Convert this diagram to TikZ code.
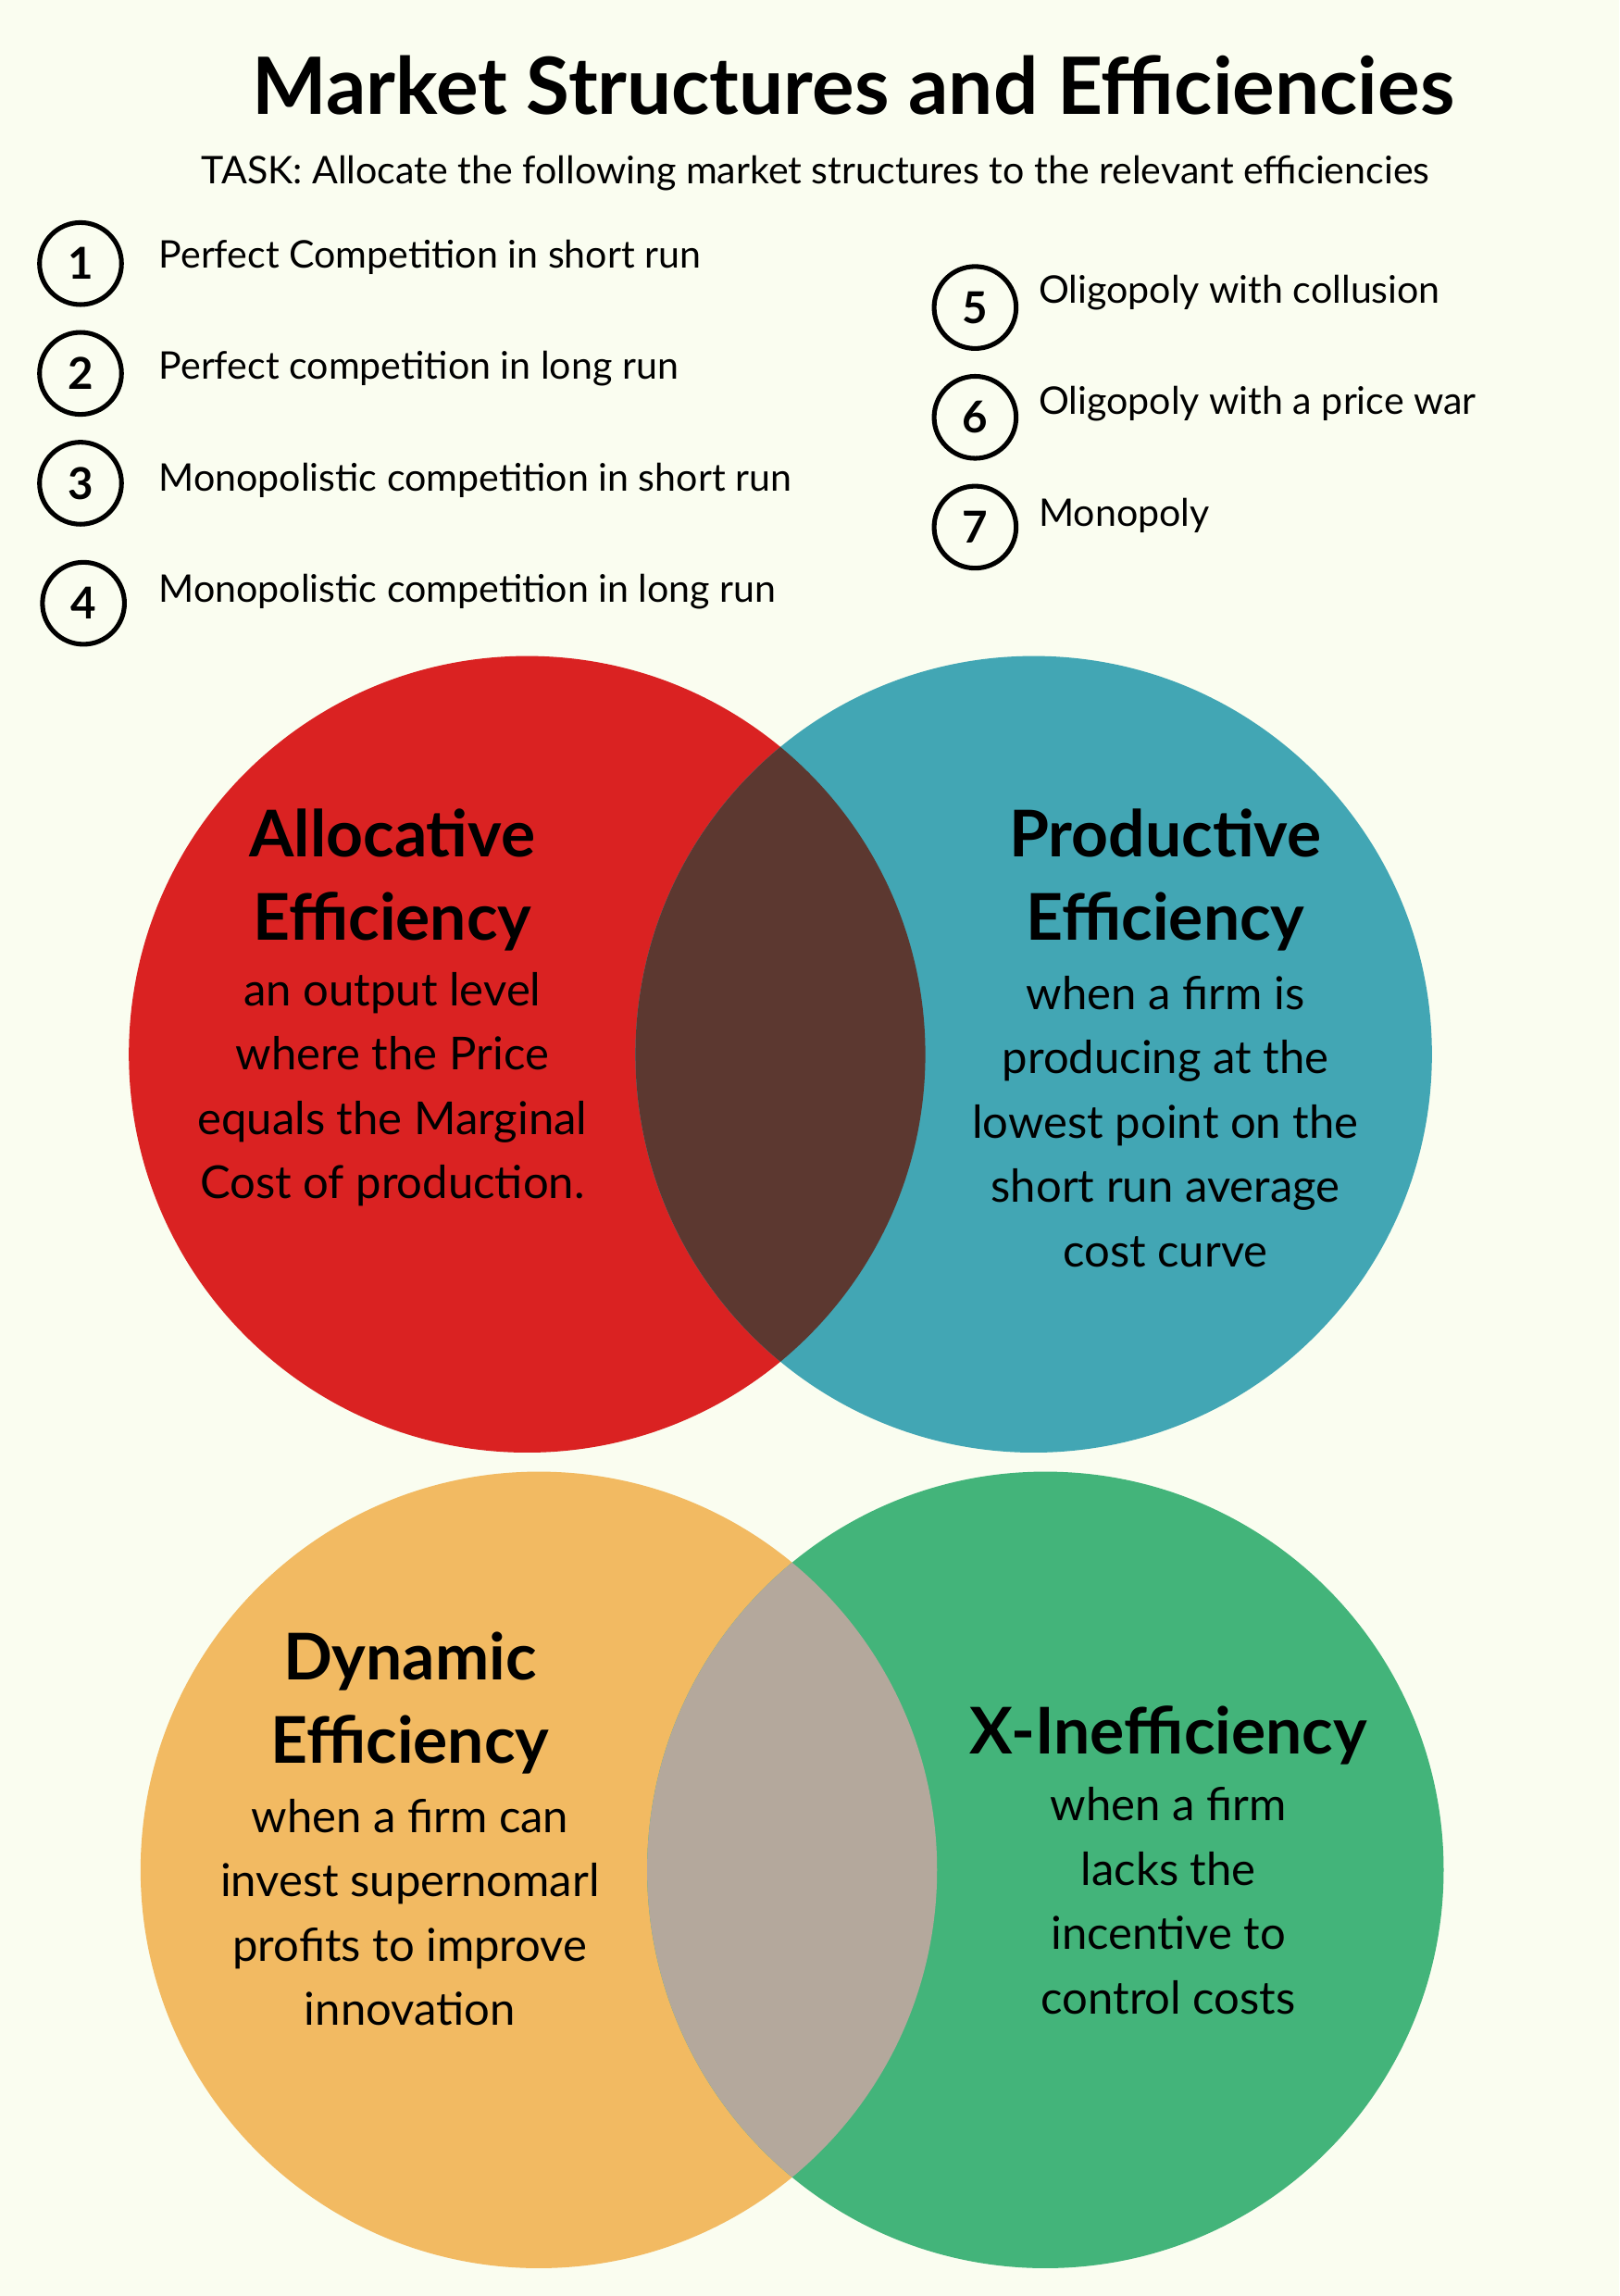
\documentclass[tikz,border=0pt]{standalone}
\usepackage{fontspec}
\setmainfont{Lato}
\definecolor{bg}{HTML}{FAFDF0}
\definecolor{cred}{HTML}{DA2222}
\definecolor{cblue}{HTML}{42A6B4}
\definecolor{corange}{HTML}{F2BA62}
\definecolor{cgreen}{HTML}{43B47A}
\definecolor{crb}{HTML}{5C3830}
\definecolor{cog}{HTML}{B4A89C}
\begin{document}
\begin{tikzpicture}[x=1pt,y=-1pt,
  num/.style={circle,draw,line width=3.2pt,minimum size=56pt,inner sep=0pt,font=\fontsize{30}{30}\selectfont\bfseries},
  item/.style={anchor=west,font=\fontsize{26}{30}\selectfont},
  head/.style={align=center,font=\fontsize{44}{57}\selectfont\bfseries},
  body/.style={align=center,font=\fontsize{31}{44}\selectfont}]
\fill[bg] (0,0) rectangle (1106,1568);
\useasboundingbox (0,0) rectangle (1106,1568);
\node[font=\fontsize{54}{60}\selectfont\bfseries] (title) at (583,58) {Market Structures and Efficiencies};
\node[font=\fontsize{26}{30}\selectfont] (task) at (557,118) {TASK: Allocate the following market structures to the relevant efficiencies};
\node[num] (n1) at (55,180) {1}; \node[item] (t1) at (105,176) {Perfect Competition in short run};
\node[num] (n2) at (55,255) {2}; \node[item] (t2) at (105,252) {Perfect competition in long run};
\node[num] (n3) at (55,330) {3}; \node[item] (t3) at (105,328) {Monopolistic competition in short run};
\node[num] (n4) at (57,412) {4}; \node[item] (t4) at (105,404) {Monopolistic competition in long run};
\node[num] (n5) at (666,210) {5}; \node[item] (t5) at (706,200) {Oligopoly with collusion};
\node[num] (n6) at (666,285) {6}; \node[item] (t6) at (706,276) {Oligopoly with a price war};
\node[num] (n7) at (666,360) {7}; \node[item] (t7) at (706,352) {Monopoly};
% circles
\fill[cred] (360,720) circle (272);
\fill[cblue] (706,720) circle (272);
\begin{scope}\clip (360,720) circle (272); \fill[crb] (706,720) circle (272);\end{scope}
\fill[corange] (368,1277) circle (272);
\fill[cgreen] (714,1277) circle (272);
\begin{scope}\clip (368,1277) circle (272); \fill[cog] (714,1277) circle (272);\end{scope}
\node[head] (ah) at (268,601) {Allocative\\Efficiency};
\node[body] (ab) at (268,744) {an output level\\where the Price\\equals the Marginal\\Cost of production.};
\node[head] (ph) at (796,601) {Productive\\Efficiency};
\node[body] (pb) at (796,766) {when a firm is\\producing at the\\lowest point on the\\short run average\\cost curve};
\node[head] (dh) at (280,1163) {Dynamic\\Efficiency};
\node[body] (db) at (280,1306) {when a firm can\\invest supernomarl\\profits to improve\\innovation};
\node[head] (xh) at (798,1185) {X-Inefficiency};
\node[body] (xb) at (798,1298) {when a firm\\lacks the\\incentive to\\control costs};
\end{tikzpicture}
\end{document}
